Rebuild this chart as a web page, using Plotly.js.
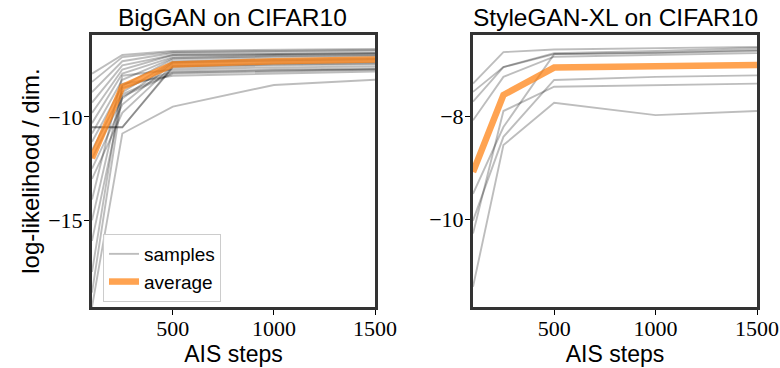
<!DOCTYPE html>
<html>
<head>
<meta charset="utf-8">
<script src="https://cdn.plot.ly/plotly-3.0.1.min.js"></script>
<style>html,body{margin:0;padding:0;background:#fff;}#chart{width:780px;height:368px;}</style>
</head>
<body>
<div id="chart"></div>
<script>
// AIS steps
const aisSteps = [100, 250, 500, 1000, 1500];

// BigGAN on CIFAR10 – per-sample log-likelihood / dim.
const bigganSamples = [
  [-7.9, -7.0, -6.8, -6.75, -6.7],
  [-8.3, -7.1, -6.85, -6.8, -6.75],
  [-8.8, -7.3, -6.9, -6.85, -6.8],
  [-9.3, -7.5, -7.0, -6.95, -6.9],
  [-9.8, -7.7, -7.0, -6.95, -6.9],
  [-10.3, -7.9, -7.1, -7.0, -6.95],
  [-10.8, -8.2, -7.15, -7.05, -7.0],
  [-11.2, -8.5, -7.2, -7.1, -7.05],
  [-11.6, -8.8, -7.3, -7.2, -7.15],
  [-12.0, -9.1, -7.35, -7.25, -7.2],
  [-12.5, -9.4, -7.4, -7.3, -7.25],
  [-13.0, -9.8, -7.5, -7.4, -7.35],
  [-10.5, -10.5, -7.55, -7.45, -7.4],
  [-10.5, -10.5, -7.6, -7.5, -7.45],
  [-14.0, -8.0, -7.7, -7.6, -7.55],
  [-15.0, -8.6, -7.8, -7.7, -7.65],
  [-16.0, -9.0, -7.9, -7.8, -7.7],
  [-17.5, -8.4, -8.0, -7.9, -7.8],
  [-19.2, -10.8, -9.5, -8.45, -8.2],
  [-18.5, -8.9, -7.85, -7.75, -7.7]
];
const bigganAverage = [-12.0, -8.55, -7.46, -7.3, -7.22];

// StyleGAN-XL on CIFAR10
const styleganSamples = [
  [-7.37, -6.76, -6.71, -6.69, -6.66],
  [-7.53, -7.05, -6.78, -6.74, -6.68],
  [-7.72, -7.05, -6.80, -6.77, -6.72],
  [-8.08, -7.24, -6.85, -6.82, -6.78],
  [-9.50, -8.21, -6.80, -6.78, -6.74],
  [-10.02, -8.40, -7.30, -7.24, -7.21],
  [-10.27, -7.90, -7.43, -7.40, -7.37],
  [-11.30, -8.56, -7.74, -7.98, -7.90]
];
const styleganAverage = [-9.08, -7.59, -7.06, -7.03, -7.01];

const leftTicks = [-15, -10];
const rightTicks = [-10, -8];
const xTicks = [500, 1000, 1500];

const sampleColor = 'rgba(0,0,0,0.26)';
const avgColor = 'rgba(255,127,14,0.72)';
const traces = [];
function addPanel(samples, avg, xa, ya, legend) {
  samples.forEach((s, i) => traces.push({
    x: aisSteps, y: s, xaxis: xa, yaxis: ya, type: 'scatter', mode: 'lines',
    line: {color: sampleColor, width: 1.9}, name: 'samples', legendgroup: 'samples',
    showlegend: legend && i === 0, hoverinfo: 'skip'
  }));
  traces.push({
    x: aisSteps, y: avg, xaxis: xa, yaxis: ya, type: 'scatter', mode: 'lines',
    line: {color: avgColor, width: 6.5}, name: 'average', legendgroup: 'average',
    showlegend: legend, hoverinfo: 'skip'
  });
}
addPanel(bigganSamples, bigganAverage, 'x', 'y', true);
addPanel(styleganSamples, styleganAverage, 'x2', 'y2', false);

const W = 780, H = 368;
const tickFont = {family: 'Liberation Serif, serif', size: 22, color: '#000'};
const sansFont = {family: 'Liberation Sans, sans-serif', size: 23, color: '#000'};
function xaxis(dom) {
  return {
    domain: dom, range: [100, 1500], tickvals: xTicks, ticks: 'outside', ticklen: 5, tickwidth: 1,
    tickcolor: '#000', showline: true, linewidth: 3, linecolor: '#333', mirror: true,
    showgrid: false, zeroline: false, tickfont: tickFont, automargin: false,
    ticklabelstandoff: -5,
    title: {text: 'AIS steps', font: sansFont, standoff: 0}
  };
}
function yaxis(range, tv, title) {
  const ax = {
    domain: [1 - 307 / H, 1 - 35 / H], range: range, tickvals: tv, ticks: 'outside', ticklen: 5, tickwidth: 1,
    tickcolor: '#000', showline: true, linewidth: 3, linecolor: '#333', mirror: true,
    showgrid: false, zeroline: false, tickfont: tickFont, automargin: false,
    ticklabelstandoff: -3
  };
  if (title) ax.title = {text: title, font: {family: 'Liberation Sans, sans-serif', size: 24, color: '#000'}, standoff: 2};
  return ax;
}

const layout = {
  width: W, height: H, margin: {l: 0, r: 0, t: 0, b: 0},
  paper_bgcolor: '#fff', plot_bgcolor: '#fff', showlegend: true,
  xaxis: xaxis([92 / W, 375 / W]),
  yaxis: yaxis([-19.2, -6.03], leftTicks, 'log-likelihood / dim.'),
  xaxis2: xaxis([473 / W, 757 / W]),
  yaxis2: yaxis([-11.69, -6.43], rightTicks, null),
  legend: {
    x: 103 / W, y: 1 - 234 / H, xanchor: 'left', yanchor: 'top',
    bgcolor: 'rgba(255,255,255,0.85)', bordercolor: '#cccccc', borderwidth: 1,
    font: {family: 'Liberation Sans, sans-serif', size: 19, color: '#000'},
    itemwidth: 30, tracegroupgap: 0
  },
  annotations: [
    {text: 'BigGAN on CIFAR10', x: 232 / W, y: 1 - 17 / H, xref: 'paper', yref: 'paper',
     xanchor: 'center', yanchor: 'middle', showarrow: false, font: {family: 'Liberation Sans, sans-serif', size: 24.5, color: '#000'}},
    {text: 'StyleGAN-XL on CIFAR10', x: 615 / W, y: 1 - 17 / H, xref: 'paper', yref: 'paper',
     xanchor: 'center', yanchor: 'middle', showarrow: false, font: {family: 'Liberation Sans, sans-serif', size: 24.5, color: '#000'}}
  ]
};
layout.xaxis.anchor = 'y';
layout.yaxis.anchor = 'x';
layout.xaxis2.anchor = 'y2';
layout.yaxis2.anchor = 'x2';

Plotly.newPlot('chart', traces, layout, {staticPlot: true, displayModeBar: false});
</script>
</body>
</html>
